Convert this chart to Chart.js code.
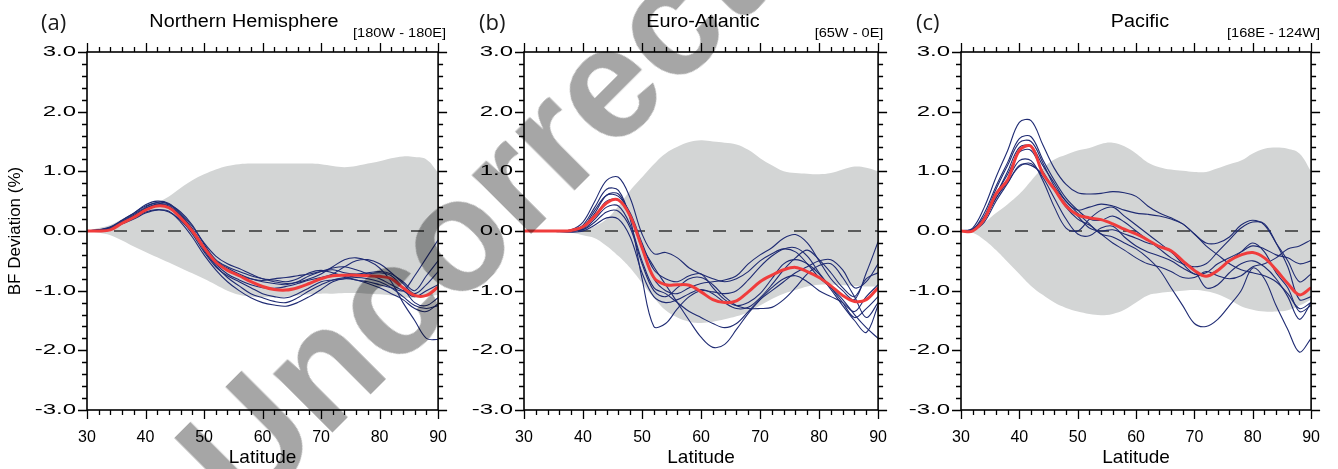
<!DOCTYPE html>
<html>
<head>
<meta charset="utf-8">
<script src="https://cdn.jsdelivr.net/npm/chart.js@4.4.1/dist/chart.umd.min.js"></script>
<style>
  html, body { margin: 0; padding: 0; background: #fff; }
  #fig { position: relative; width: 1338px; height: 469px; overflow: hidden; font-family: "Liberation Sans", Arial, sans-serif; color: #000; }
  #fig canvas { position: absolute; top: 0; }
  .tag { position: absolute; top: 10px; font-family: "Open Sans", sans-serif; font-size: 22px; line-height: 22px; color: #1a1a1a; }
  .ttl { position: absolute; top: 11px; width: 300px; text-align: center; font-size: 18px; line-height: 20px; transform: scaleX(1.1); }
  .rng { position: absolute; top: 26px; font-size: 13px; line-height: 14px; white-space: nowrap; transform-origin: right center; transform: scaleX(1.12); }
  #wm { position: absolute; left: 0; top: 0; font: bold 158px "Liberation Sans", Arial, sans-serif; line-height: 158px; color: #a6a6a6;
        white-space: nowrap; transform-origin: 0 0; transform: translate(244px, 521px) rotate(-45deg) translate(0, -134px);
        mix-blend-mode: multiply; pointer-events: none; }
</style>
</head>
<body>
<div id="fig">
  <canvas id="c-nh" width="465" height="469" style="left:0px"></canvas>
  <canvas id="c-ea" width="440" height="469" style="left:465px"></canvas>
  <canvas id="c-pac" width="433" height="469" style="left:905px"></canvas>

  <div class="tag" style="left:41px">(a)</div>
  <div class="tag" style="left:479px">(b)</div>
  <div class="tag" style="left:916px">(c)</div>

  <div class="ttl" style="left:94px">Northern Hemisphere</div>
  <div class="ttl" style="left:553px">Euro-Atlantic</div>
  <div class="ttl" style="left:990px">Pacific</div>

  <div class="rng" style="right:892px">[180W - 180E]</div>
  <div class="rng" style="right:455px">[65W - 0E]</div>
  <div class="rng" style="right:18px">[168E - 124W]</div>

  <div id="wm">Uncorrected</div>
</div>

<script>
// ---- data (2-degree latitude grid) ----
const latitudes = [30, 32, 34, 36, 38, 40, 42, 44, 46, 48, 50, 52, 54, 56, 58, 60,
                   62, 64, 66, 68, 70, 72, 74, 76, 78, 80, 82, 84, 86, 88, 90];
const xTicks = [30, 40, 50, 60, 70, 80, 90];
const yTicks = [-3, -2, -1, 0, 1, 2, 3];

// (a) Northern Hemisphere
const nhUpper = [0, 0.05, 0.1, 0.2, 0.3, 0.4, 0.48, 0.58, 0.72, 0.85, 0.95, 1.03, 1.09, 1.12, 1.13, 1.13,
                 1.13, 1.13, 1.13, 1.13, 1.12, 1.09, 1.07, 1.09, 1.13, 1.17, 1.22, 1.25, 1.24, 1.2, 0.98];
const nhLower = [0, -0.03, -0.07, -0.16, -0.26, -0.35, -0.44, -0.53, -0.62, -0.71, -0.8, -0.9, -1.0, -1.07, -1.1, -1.11,
                 -1.11, -1.1, -1.08, -1.06, -1.05, -1.05, -1.04, -1.04, -1.05, -1.06, -1.08, -1.11, -1.12, -1.1, -1.07];
const nhMean = [0, 0, 0.02, 0.13, 0.23, 0.35, 0.42, 0.39, 0.22, 0.0, -0.28, -0.52, -0.66, -0.75, -0.85, -0.93,
                -0.98, -0.99, -0.95, -0.88, -0.8, -0.75, -0.74, -0.74, -0.75, -0.76, -0.8, -0.95, -1.08, -1.08, -0.94];
const nhRuns = [
  [0, 0.02, 0.06, 0.18, 0.3, 0.44, 0.5, 0.46, 0.3, 0.08, -0.2, -0.42, -0.55, -0.63, -0.72, -0.8, -0.82, -0.85, -0.8, -0.7, -0.66, -0.7, -0.76, -0.82, -0.85, -0.9, -0.95, -1.0, -0.75, -0.45, -0.15],
  [0, 0.01, 0.05, 0.15, 0.26, 0.38, 0.45, 0.44, 0.32, 0.1, -0.22, -0.48, -0.6, -0.68, -0.75, -0.8, -0.85, -0.88, -0.86, -0.8, -0.72, -0.6, -0.48, -0.45, -0.5, -0.62, -0.85, -1.2, -1.5, -1.8, -1.82],
  [0, 0, 0.03, 0.12, 0.22, 0.32, 0.36, 0.33, 0.15, -0.1, -0.4, -0.65, -0.85, -1.0, -1.12, -1.2, -1.24, -1.26, -1.2, -1.1, -0.98, -0.85, -0.8, -0.82, -0.88, -0.95, -1.05, -1.15, -1.3, -1.35, -1.22],
  [0, 0.02, 0.05, 0.14, 0.24, 0.36, 0.44, 0.42, 0.26, 0.02, -0.32, -0.58, -0.78, -0.92, -1.05, -1.12, -1.18, -1.2, -1.12, -1.0, -0.9, -0.82, -0.78, -0.75, -0.72, -0.7, -0.75, -0.95, -1.2, -1.25, -1.12],
  [0, 0.01, 0.04, 0.16, 0.28, 0.4, 0.48, 0.45, 0.28, 0.04, -0.26, -0.5, -0.65, -0.75, -0.8, -0.83, -0.8, -0.78, -0.75, -0.72, -0.68, -0.65, -0.7, -0.72, -0.7, -0.68, -0.72, -0.85, -1.0, -0.75, -0.5],
  [0, 0, 0.03, 0.12, 0.2, 0.3, 0.35, 0.32, 0.18, -0.02, -0.3, -0.55, -0.72, -0.82, -0.9, -0.95, -0.96, -0.93, -0.88, -0.82, -0.78, -0.72, -0.6, -0.5, -0.48, -0.55, -0.7, -0.88, -1.05, -0.9, -0.68],
  [0, 0.02, 0.07, 0.18, 0.3, 0.42, 0.47, 0.4, 0.2, -0.05, -0.35, -0.6, -0.75, -0.85, -0.95, -1.05, -1.1, -1.12, -1.05, -0.95, -0.85, -0.82, -0.8, -0.78, -0.8, -0.85, -0.95, -1.1, -1.25, -1.3, -1.25],
  [0, 0.01, 0.04, 0.14, 0.25, 0.38, 0.44, 0.4, 0.24, 0.0, -0.28, -0.5, -0.62, -0.72, -0.8, -0.85, -0.88, -0.9, -0.85, -0.75, -0.68, -0.62, -0.6, -0.65, -0.72, -0.8, -0.9, -1.0, -1.1, -1.0, -0.9],
];

// (b) Euro-Atlantic
const eaUpper = [0, 0, 0, 0, 0, 0.02, 0.08, 0.2, 0.42, 0.68, 0.9, 1.12, 1.3, 1.41, 1.49, 1.52,
                 1.5, 1.48, 1.45, 1.36, 1.22, 1.1, 1.0, 0.97, 0.96, 0.95, 0.97, 1.03, 1.08, 1.06, 1.0];
const eaLower = [0, 0, 0, -0.01, -0.03, -0.07, -0.12, -0.25, -0.42, -0.62, -0.87, -1.12, -1.33, -1.45, -1.52, -1.54,
                 -1.52, -1.48, -1.43, -1.36, -1.25, -1.14, -1.05, -0.99, -0.93, -0.9, -0.9, -0.91, -0.92, -0.93, -0.93];
const eaMean = [0, 0, 0, 0, 0.01, 0.07, 0.25, 0.47, 0.52, 0.25, -0.28, -0.78, -0.9, -0.9, -0.91, -1.02,
                -1.15, -1.2, -1.17, -1.02, -0.85, -0.74, -0.65, -0.61, -0.68, -0.78, -0.92, -1.08, -1.18, -1.15, -0.95];
const eaRuns = [
  [0, 0, 0, 0, 0.02, 0.15, 0.5, 0.85, 0.9, 0.55, -0.05, -0.38, -0.36, -0.45, -0.62, -0.72, -0.8, -0.85, -0.8, -0.68, -0.5, -0.38, -0.3, -0.35, -0.55, -0.78, -0.95, -1.15, -1.4, -1.62, -1.8],
  [0, 0, 0, 0, 0.01, 0.1, 0.4, 0.7, 0.68, 0.2, -0.8, -1.6, -1.55, -1.3, -1.1, -1.0, -1.02, -1.05, -1.0, -0.82, -0.6, -0.42, -0.3, -0.28, -0.42, -0.7, -0.95, -1.2, -1.45, -1.3, -1.1],
  [0, 0, 0, 0, 0, 0.05, 0.3, 0.6, 0.62, 0.25, -0.25, -0.6, -0.9, -1.2, -1.5, -1.78, -1.95, -1.9, -1.65, -1.38, -1.15, -0.95, -0.8, -0.75, -0.85, -1.0, -1.1, -1.2, -1.35, -1.1, -0.9],
  [0, 0, 0, 0, 0, 0.05, 0.25, 0.5, 0.52, 0.25, -0.3, -0.8, -1.0, -1.05, -0.95, -0.88, -0.85, -0.82, -0.75, -0.55, -0.4, -0.28, -0.12, -0.06, -0.2, -0.5, -0.8, -1.0, -1.15, -0.7, -0.18],
  [0, 0, 0, 0, 0, 0.03, 0.2, 0.4, 0.42, 0.1, -0.5, -0.95, -1.05, -1.2, -1.35, -1.45, -1.55, -1.62, -1.55, -1.35, -1.15, -1.0, -0.85, -0.7, -0.6, -0.5, -0.48, -0.65, -0.95, -0.85, -0.55],
  [0, 0, 0, 0, 0, 0.02, 0.15, 0.32, 0.33, 0.05, -0.55, -1.0, -1.1, -0.95, -0.8, -0.78, -0.9, -1.1, -1.25, -1.3, -1.3, -1.28, -1.15, -0.95, -0.72, -0.58, -0.55, -0.78, -1.1, -1.45, -1.2],
  [0, 0, 0, -0.01, -0.02, 0, 0.1, 0.22, 0.2, -0.1, -0.7, -1.1, -1.2, -1.15, -1.05, -0.98, -1.05, -1.2, -1.3, -1.28, -1.12, -0.9, -0.65, -0.45, -0.32, -0.48, -0.7, -0.95, -1.1, -0.8, -0.7],
  [0, 0, 0, 0, 0.01, 0.06, 0.35, 0.6, 0.58, 0.3, -0.2, -0.65, -0.8, -0.85, -0.75, -0.72, -0.95, -1.15, -1.25, -1.2, -1.05, -0.8, -0.55, -0.48, -0.55, -0.72, -0.98, -1.25, -1.5, -1.7, -1.25],
];

// (c) Pacific
const pacUpper = [0, 0.02, 0.14, 0.3, 0.45, 0.62, 0.84, 1.05, 1.2, 1.28, 1.35, 1.39, 1.46, 1.48, 1.42, 1.3,
                  1.15, 1.07, 1.03, 1.01, 0.99, 0.99, 1.05, 1.12, 1.18, 1.3, 1.38, 1.4, 1.38, 1.3, 1.0];
const pacLower = [0, -0.03, -0.15, -0.32, -0.52, -0.72, -0.92, -1.07, -1.2, -1.29, -1.35, -1.39, -1.41, -1.39, -1.32, -1.2,
                  -1.08, -1.04, -1.02, -1.0, -0.99, -1.01, -1.06, -1.15, -1.26, -1.32, -1.35, -1.35, -1.33, -1.25, -1.15];
const pacMean = [0, 0, 0.2, 0.62, 0.86, 1.35, 1.42, 0.97, 0.7, 0.42, 0.27, 0.22, 0.19, 0.12, 0.03, -0.05,
                 -0.15, -0.26, -0.33, -0.5, -0.66, -0.76, -0.66, -0.5, -0.4, -0.36, -0.45, -0.65, -0.88, -1.07, -0.95];
const pacRuns = [
  [0, 0.05, 0.4, 0.9, 1.35, 1.82, 1.85, 1.45, 1.05, 0.78, 0.64, 0.62, 0.63, 0.66, 0.64, 0.58, 0.42, 0.3, 0.22, 0.12, -0.05, -0.25, -0.4, -0.55, -0.65, -0.7, -0.75, -0.85, -1.05, -1.3, -1.2],
  [0, 0.02, 0.3, 0.75, 1.15, 1.55, 1.58, 1.2, 0.85, 0.55, 0.35, 0.2, 0.18, 0.25, 0.15, 0.0, -0.15, -0.3, -0.45, -0.55, -0.6, -0.55, -0.35, -0.15, 0.05, 0.15, 0.12, -0.2, -0.6, -1.15, -1.1],
  [0, 0.03, 0.25, 0.7, 1.1, 1.48, 1.5, 1.15, 0.75, 0.5, 0.3, 0.12, -0.05, -0.1, -0.2, -0.3, -0.45, -0.65, -0.95, -1.25, -1.55, -1.6, -1.48, -1.25, -1.0, -0.62, -0.8, -1.25, -1.65, -2.03, -1.8],
  [0, 0.02, 0.2, 0.6, 1.0, 1.4, 1.42, 1.1, 0.8, 0.5, 0.35, 0.4, 0.45, 0.42, 0.35, 0.3, 0.28, 0.25, 0.2, 0.12, -0.05, -0.2, -0.2, -0.1, 0.1, 0.18, 0.1, -0.2, -0.5, -0.85, -0.72],
  [0, 0.01, 0.22, 0.62, 0.95, 1.32, 1.35, 1.0, 0.7, 0.45, 0.25, 0.05, 0.0, 0.02, -0.05, -0.12, -0.2, -0.25, -0.35, -0.55, -0.72, -0.7, -0.55, -0.45, -0.35, -0.25, -0.3, -0.4, -0.45, -0.55, -0.5],
  [0, 0.01, 0.2, 0.55, 0.85, 1.18, 1.18, 0.85, 0.4, 0.05, 0.0, 0.2, 0.35, 0.4, 0.25, 0.1, -0.05, -0.2, -0.35, -0.5, -0.65, -0.95, -0.9, -0.7, -0.55, -0.5, -0.6, -0.8, -1.1, -1.48, -1.2],
  [0, 0.01, 0.2, 0.55, 0.82, 1.08, 1.13, 0.9, 0.55, 0.2, -0.05, -0.08, 0.05, 0.08, -0.1, -0.25, -0.35, -0.42, -0.5, -0.62, -0.72, -0.75, -0.65, -0.5, -0.35, -0.2, -0.35, -0.7, -0.95, -1.35, -1.25],
  [0, 0.01, 0.15, 0.5, 0.8, 1.1, 1.1, 0.95, 0.7, 0.4, 0.2, 0.1, -0.05, -0.2, -0.32, -0.45, -0.55, -0.6, -0.68, -0.78, -0.78, -0.68, -0.75, -0.8, -0.75, -0.6, -0.55, -0.45, -0.3, -0.25, -0.15],
];

const zeroLine = [0, 0];

// ---- style ----
const FONT = '"Liberation Sans", Arial, sans-serif';
const BAND = '#d3d5d5';
const NAVY = '#1f2b73';
const RED = '#f03c3c';
const Y_STRETCH = 1.6;   // the y tick labels in the original are drawn wide

// frame + outward major/minor tick marks on all four sides
const frameTicks = {
  id: 'frameTicks',
  afterDatasetsDraw(chart) {
    const { ctx, chartArea: a, scales: { x, y } } = chart;
    ctx.save();
    ctx.strokeStyle = '#000';
    ctx.lineWidth = 1.3;
    ctx.beginPath();
    for (let v = xTicks[0]; v <= xTicks[xTicks.length - 1]; v += 2) {
      const px = Math.round(x.getPixelForValue(v)) + 0.5;
      const len = xTicks.includes(v) ? 9 : 5;
      ctx.moveTo(px, a.top); ctx.lineTo(px, a.top - len);
      ctx.moveTo(px, a.bottom); ctx.lineTo(px, a.bottom + len);
    }
    for (let i = yTicks[0] * 5; i <= yTicks[yTicks.length - 1] * 5; i++) {
      const py = Math.round(y.getPixelForValue(i / 5)) + 0.5;
      const len = i % 5 === 0 ? 9 : 5;
      ctx.moveTo(a.left, py); ctx.lineTo(a.left - len, py);
      ctx.moveTo(a.right, py); ctx.lineTo(a.right + len, py);
    }
    ctx.stroke();
    ctx.lineWidth = 1.6;
    ctx.strokeRect(a.left, a.top, a.right - a.left, a.bottom - a.top);
    ctx.restore();
  },
  beforeDraw(chart) {
    // stretch the y tick labels horizontally, anchored on their right edge
    const s = chart.scales.y;
    if (s._wide) return;
    const orig = s.drawLabels;
    s.drawLabels = function (area) {
      const c = this.ctx, ax = this.right - this.options.ticks.padding;
      c.save();
      c.translate(ax, 0); c.scale(Y_STRETCH, 1); c.translate(-ax, 0);
      orig.call(this, area);
      c.restore();
    };
    s._wide = true;
  },
};

function pts(arr) { return arr.map((v, i) => ({ x: latitudes[i], y: v })); }

function buildPanel(id, upper, lower, mean, runs, yWidth, rightPad, showYTitle) {
  const datasets = [
    { data: pts(upper), fill: '+1', backgroundColor: BAND, borderWidth: 0, pointRadius: 0, tension: 0.4, order: 4 },
    { data: pts(lower), fill: false, borderWidth: 0, pointRadius: 0, tension: 0.4, order: 4 },
    { data: zeroLine.map((v, i) => ({ x: i ? latitudes[latitudes.length - 1] : latitudes[0], y: v })),
      borderColor: '#333', borderWidth: 1.6, borderDash: [13, 14], pointRadius: 0, order: 3 },
  ];
  runs.forEach(r => datasets.push({ data: pts(r), borderColor: NAVY, borderWidth: 1.1, pointRadius: 0, tension: 0.35, order: 2 }));
  datasets.push({ data: pts(mean), borderColor: RED, borderWidth: 3, pointRadius: 0, tension: 0.35, order: 1 });

  return new Chart(document.getElementById(id), {
    type: 'line',
    data: { datasets },
    plugins: [frameTicks],
    options: {
      responsive: false, animation: false, devicePixelRatio: 1,
      layout: { padding: { top: 52, right: rightPad, left: 0, bottom: 0 } },
      plugins: { legend: { display: false }, tooltip: { enabled: false } },
      scales: {
        x: {
          type: 'linear', min: xTicks[0], max: xTicks[xTicks.length - 1],
          grid: { display: false, drawTicks: false }, border: { display: false },
          ticks: { stepSize: 10, padding: 18, color: '#000', maxRotation: 0, autoSkip: false, font: { family: FONT, size: 16 } },
          title: { display: true, text: 'Latitude', color: '#000', font: { family: FONT, size: 19 }, padding: { top: 0, bottom: 0 } },
          afterFit: s => { s.height = 59; },
        },
        y: {
          type: 'linear', min: yTicks[0], max: yTicks[yTicks.length - 1],
          grid: { display: false, drawTicks: false }, border: { display: false },
          ticks: { stepSize: 1, padding: 11, color: '#000', font: { family: FONT, size: 15 }, callback: v => v.toFixed(1) },
          title: { display: showYTitle, text: 'BF Deviation (%)', color: '#000', font: { family: FONT, size: 17 }, padding: { top: 5, bottom: 0 } },
          afterFit: s => { s.width = yWidth; },
        },
      },
    },
  });
}

buildPanel('c-nh', nhUpper, nhLower, nhMean, nhRuns, 87, 19, true);
buildPanel('c-ea', eaUpper, eaLower, eaMean, eaRuns, 59, 22, false);
buildPanel('c-pac', pacUpper, pacLower, pacMean, pacRuns, 56, 18, false);
</script>
</body>
</html>
